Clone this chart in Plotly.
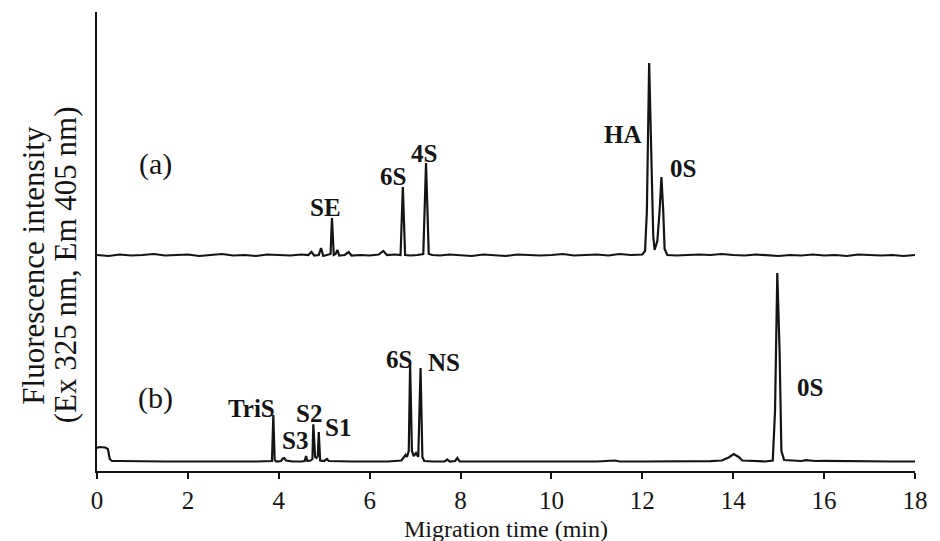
import plotly.graph_objects as go

# ---- data (migration time in min, fluorescence in arbitrary units) ----
time_a = [0.0, 0.25, 0.5, 0.75, 1.0, 1.25, 1.5, 1.75, 2.0, 2.25, 2.5, 2.75, 3.0, 3.25, 3.5, 3.75,
          4.0, 4.25, 4.5, 4.65, 4.72, 4.78, 4.88, 4.93, 4.98, 5.08, 5.14, 5.17, 5.21, 5.25, 5.29,
          5.33, 5.45, 5.54, 5.6, 5.8, 6.0, 6.2, 6.3, 6.38, 6.55, 6.68, 6.73, 6.78, 6.9, 7.05,
          7.18, 7.24, 7.3, 7.38, 7.55, 7.75, 8.0, 8.25, 8.5, 8.75, 9.0, 9.25, 9.5, 9.75, 10.0,
          10.25, 10.5, 10.75, 11.0, 11.25, 11.5, 11.75, 12.0, 12.06, 12.1, 12.15, 12.2, 12.24,
          12.27, 12.33, 12.38, 12.42, 12.46, 12.49, 12.55, 12.75, 13.0, 13.25, 13.5, 13.75, 14.0,
          14.25, 14.5, 14.75, 15.0, 15.25, 15.5, 15.75, 16.0, 16.25, 16.5, 16.75, 17.0, 17.25,
          17.5, 17.75, 18.0]
signal_a = [216, 215, 216.5, 215.5, 216, 217, 215.5, 216, 216.5, 215, 216, 217, 215.5, 216, 215, 216.5,
            216, 215.5, 216.5, 216, 219, 215.5, 216, 223, 215, 216, 217, 253, 216, 217, 221,
            215.5, 216, 219, 215.5, 216, 215.5, 216.5, 220, 216, 216.5, 216, 284, 216, 215.5, 216,
            217, 308, 217, 216, 215.5, 216.5, 216, 215, 216.5, 216, 215, 216.5, 216, 215.5, 216,
            217, 215.5, 216, 216.5, 215.5, 217, 216, 216.5, 220, 260, 408, 300, 235,
            221, 230, 260, 294, 260, 222, 216, 215.5, 216, 216.5, 216, 217, 216,
            215.5, 216.5, 216, 215, 216, 215.5, 216.5, 215.5, 216, 215, 216.5, 216, 215.5,
            216, 215, 216]

time_b = [0.0, 0.05, 0.18, 0.24, 0.28, 0.33, 0.5, 1.0, 1.5, 2.0, 2.5, 3.0, 3.5, 3.8, 3.85, 3.88,
          3.91, 3.95, 4.05, 4.09, 4.12, 4.16, 4.3, 4.5, 4.57, 4.6, 4.63, 4.7, 4.74, 4.76, 4.8,
          4.83, 4.86, 4.88, 4.91, 5.0, 5.06, 5.1, 5.3, 5.6, 6.0, 6.4, 6.7, 6.76, 6.79, 6.82,
          6.86, 6.89, 6.93, 6.97, 7.02, 7.07, 7.12, 7.16, 7.2, 7.4, 7.65, 7.71, 7.76, 7.88,
          7.93, 7.98, 8.2, 8.5, 9.0, 9.5, 10.0, 10.5, 11.0, 11.4, 11.5, 12.0, 12.5, 13.0, 13.5,
          13.75, 13.9, 14.01, 14.12, 14.2, 14.4, 14.7, 14.87, 14.92, 14.97, 15.02, 15.06, 15.12,
          15.3, 15.5, 15.6, 15.8, 16.0, 16.5, 17.0, 17.5, 18.0]
signal_b = [23, 24, 23.5, 22, 12, 10, 10, 9.5, 9.5, 9.5, 9.8, 9.5, 9.5, 9.5, 10, 56,
            11, 9.5, 10, 12.5, 13, 10.5, 9.5, 9.5, 10, 15, 10, 10.5, 12, 46.7, 14,
            13, 15, 39, 10.5, 10, 12, 10, 9.5, 9.5, 9.5, 9.5, 10.5, 14, 16, 14,
            20, 107, 20, 15, 18, 14, 103, 14, 10, 9.5, 9.5, 11.5, 9.5, 10,
            13, 9.5, 9.5, 10, 9.5, 9.5, 9.8, 9.5, 9.5, 10.5, 9.5, 9.5, 9.5, 9.5, 9.8,
            10.5, 13.5, 17, 14, 10.5, 9.8, 9.5, 10.5, 60, 198, 120, 20, 11,
            10.5, 10, 10.8, 10, 10.2, 9.8, 9.6, 9.5, 9.5]

peak_labels_a = ["SE", "6S", "4S", "HA", "0S"]
peak_labels_b = ["TriS", "S3", "S2", "S1", "6S", "NS", "0S"]
x_ticks = [0, 2, 4, 6, 8, 10, 12, 14, 16, 18]

# ---- label placement (layout only) ----
label_pos_a = [(5.02, 264), (6.52, 295), (7.20, 318), (11.58, 337), (12.89, 303)]
label_pos_b = [(3.39, 63), (4.35, 31), (4.67, 58), (5.30, 44), (6.65, 112), (7.63, 109), (15.70, 84)]

SERIF = "Liberation Serif"
INK = "#141414"

fig = go.Figure()
fig.add_trace(go.Scatter(x=time_a, y=signal_a, mode="lines",
                         line=dict(color=INK, width=2.2), showlegend=False, hoverinfo="skip"))
fig.add_trace(go.Scatter(x=time_b, y=signal_b, mode="lines",
                         line=dict(color=INK, width=2.2), showlegend=False, hoverinfo="skip"))

annotations = []
for txt, (x, y) in zip(peak_labels_a, label_pos_a):
    annotations.append(dict(x=x, y=y, xref="x", yref="y", text=f"<b>{txt}</b>", showarrow=False,
                            font=dict(family=SERIF, size=25, color=INK)))
for txt, (x, y) in zip(peak_labels_b, label_pos_b):
    annotations.append(dict(x=x, y=y, xref="x", yref="y", text=f"<b>{txt}</b>", showarrow=False,
                            font=dict(family=SERIF, size=25, color=INK)))
annotations.append(dict(x=1.28, y=307, xref="x", yref="y", text="(a)", showarrow=False,
                        font=dict(family=SERIF, size=30, color=INK)))
annotations.append(dict(x=1.28, y=73, xref="x", yref="y", text="(b)", showarrow=False,
                        font=dict(family=SERIF, size=30, color=INK)))
# axis titles
annotations.append(dict(x=0.5, y=-0.127, xref="paper", yref="paper", text="Migration time (min)",
                        showarrow=False, xanchor="center", yanchor="middle",
                        font=dict(family=SERIF, size=24, color=INK)))
annotations.append(dict(x=-0.0773, y=0.449, xref="paper", yref="paper", text="Fluorescence intensity",
                        showarrow=False, textangle=-90, xanchor="center", yanchor="middle",
                        font=dict(family=SERIF, size=31, color=INK)))
annotations.append(dict(x=-0.0386, y=0.449, xref="paper", yref="paper", text="(Ex 325 nm, Em 405 nm)",
                        showarrow=False, textangle=-90, xanchor="center", yanchor="middle",
                        font=dict(family=SERIF, size=31, color=INK)))

fig.update_layout(
    width=940, height=541,
    margin=dict(l=97, r=15, t=12, b=70),
    paper_bgcolor="white", plot_bgcolor="white",
    annotations=annotations,
    xaxis=dict(range=[0, 18], tickvals=x_ticks, ticks="outside", ticklen=6, tickwidth=1.5,
               tickcolor=INK, showline=True, linecolor=INK, linewidth=1.5, showgrid=False,
               zeroline=False, tickfont=dict(family=SERIF, size=25, color=INK)),
    yaxis=dict(range=[0, 459], showticklabels=False, ticks="", showline=True, linecolor=INK,
               linewidth=1.5, showgrid=False, zeroline=False),
)

fig.write_html("out.html")
